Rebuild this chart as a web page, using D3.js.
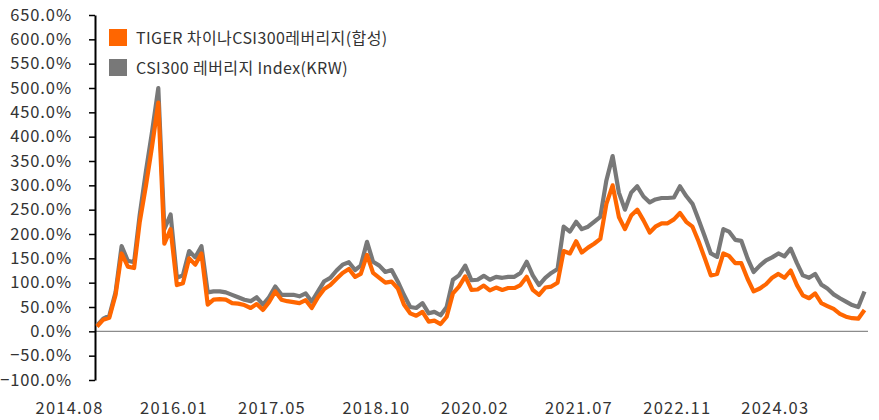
<!DOCTYPE html>
<html>
<head>
<meta charset="utf-8">
<script src="https://cdn.jsdelivr.net/npm/d3@7"></script>
<style>
  body { margin: 0; background: #fff; }
  text { font-family: "Noto Sans CJK KR", "Noto Sans", sans-serif; fill: #333; }
</style>
</head>
<body>
<div id="chart"></div>
<script>
// monthly points from 2014.08
var tigerValues = [
  10, 24, 28, 75, 160, 133, 130, 225, 300, 380,
  470, 180, 210, 95, 99, 150, 137, 160, 55, 65,
  66, 65, 58, 57, 54, 48, 56, 44, 60, 82,
  65, 62, 60, 58, 64, 48, 70, 87, 95, 108,
  120, 128, 112, 118, 157, 120, 110, 100, 102, 88,
  55, 37, 32, 40, 20, 22, 15, 30, 78, 92,
  113, 85, 86, 94, 84, 90, 85, 89, 89, 95,
  112, 85, 75, 90, 92, 100, 165, 160, 185, 162,
  172, 180, 190, 262, 300, 235, 210, 238, 250, 228,
  203, 215, 222, 222, 230, 243, 225, 215, 185, 150,
  115, 118, 160, 155, 140, 140, 108, 82, 88, 97,
  110, 118, 110, 125, 95, 74, 68, 78, 58, 52,
  46, 36, 30, 27, 26, 44
];
var indexValues = [
  12, 26, 32, 80, 175, 145, 142, 240, 330, 410,
  500, 210, 240, 110, 115, 165, 152, 175, 80, 82,
  82, 80, 75, 70, 65, 62, 70, 55, 70, 92,
  75, 75, 75, 72, 78, 61, 82, 103, 110, 125,
  137, 142, 126, 135, 184, 143, 135, 122, 126, 102,
  75, 50, 48, 58, 37, 40, 33, 50, 106, 115,
  135, 105, 106, 114, 106, 112, 110, 112, 112, 120,
  143, 115, 95, 110, 120, 128, 215, 205, 225, 210,
  215, 225, 235, 310, 360, 285, 250, 285, 298, 277,
  265, 271, 274, 274, 275, 298, 278, 262, 230, 195,
  160, 153, 210, 205, 188, 186, 150, 122, 135, 146,
  152, 160, 154, 170, 140, 115, 110, 118, 96, 88,
  76, 68, 61, 54, 50, 82
];
var tickLabels = ['2014.08', '2016.01', '2017.05', '2018.10', '2020.02', '2021.07', '2022.11', '2024.03'];
var legendNames = ['TIGER 차이나CSI300레버리지(합성)', 'CSI300 레버리지 Index(KRW)'];
var colors = ['#ff6600', '#787878'];

var width = 879, height = 420;
var start = new Date(2014, 7, 1);
var dates = tigerValues.map(function(d, i) { return d3.timeMonth.offset(start, i); });

var svg = d3.select('#chart').append('svg')
    .attr('width', width)
    .attr('height', height);

var x = d3.scaleTime()
    .domain([dates[0], dates[dates.length - 1]])
    .range([97, 864.5]);
var y = d3.scaleLinear()
    .domain([-100, 650])
    .range([380, 15]);

// zero line
svg.append('line')
    .attr('x1', 95).attr('x2', 868)
    .attr('y1', y(0)).attr('y2', y(0))
    .style('stroke', '#8c8c8c')
    .style('stroke-width', 1.2);

var yAxis = svg.append('g')
    .attr('transform', 'translate(95,0)')
    .call(d3.axisLeft(y)
        .tickValues(d3.range(-100, 651, 50))
        .tickSize(6)
        .tickSizeOuter(0)
        .tickPadding(17)
        .tickFormat(function(d) { return (d < 0 ? '\u2212' : '') + Math.abs(d).toFixed(1) + '%'; }));
yAxis.select('.domain').style('stroke', '#000').style('stroke-width', 2);
yAxis.selectAll('.tick line').style('stroke', '#000').style('stroke-width', 1.5);
yAxis.selectAll('text')
    .style('font-size', '16.5px')
    .style('letter-spacing', '0.9px')
    .style('fill', '#333');

var xAxis = svg.append('g')
    .attr('transform', 'translate(0,' + 399 + ')')
    .call(d3.axisBottom(x)
        .tickValues(tickLabels.map(function(s) {
            var p = s.split('.');
            return new Date(+p[0], +p[1] - 1, 1);
        }))
        .tickSize(0)
        .tickFormat(d3.timeFormat('%Y.%m')));
xAxis.select('.domain').remove();
xAxis.selectAll('text')
    .attr('text-anchor', 'end')
    .attr('dx', '6')
    .style('font-size', '16.5px')
    .style('letter-spacing', '1.2px')
    .style('fill', '#333');

var line = d3.line()
    .x(function(d, i) { return x(dates[i]); })
    .y(function(d) { return y(d); });

var series = [indexValues, tigerValues];
svg.selectAll('.series')
    .data(series)
    .enter().append('path')
    .attr('class', 'series')
    .attr('d', line)
    .style('fill', 'none')
    .style('stroke', function(d, i) { return i === 0 ? colors[1] : colors[0]; })
    .style('stroke-width', 4.2)
    .style('stroke-linejoin', 'round');

var legend = svg.selectAll('.legend')
    .data(legendNames)
    .enter().append('g')
    .attr('class', 'legend')
    .attr('transform', function(d, i) { return 'translate(109,' + (29 + i * 30) + ')'; });
legend.append('rect')
    .attr('width', 18).attr('height', 17)
    .style('fill', function(d, i) { return colors[i]; });
legend.append('text')
    .attr('x', 27).attr('y', 9)
    .attr('dy', '0.35em')
    .style('font-size', '16px')
    .style('letter-spacing', '0.4px')
    .text(function(d) { return d; });
</script>
</body>
</html>
